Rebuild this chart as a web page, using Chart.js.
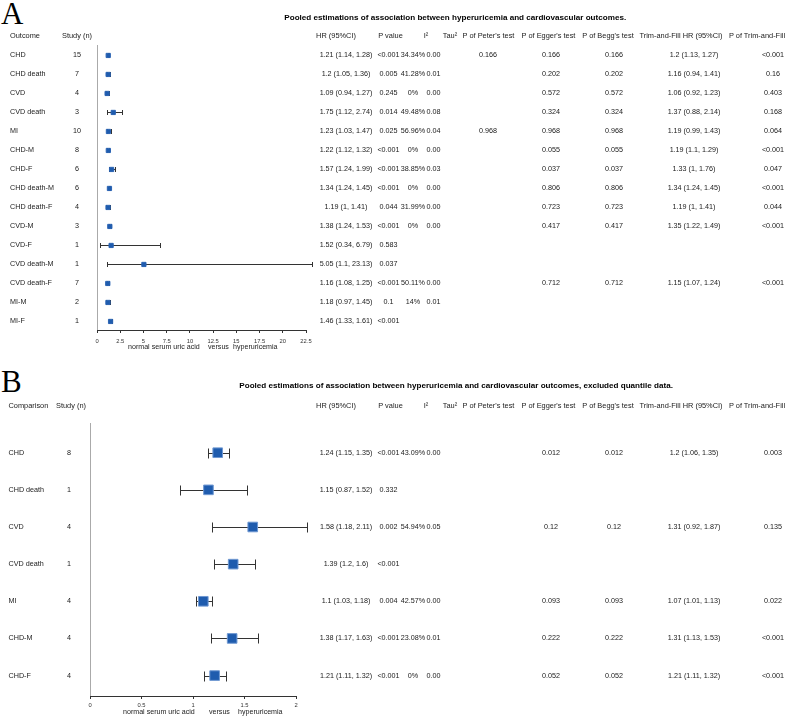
<!DOCTYPE html>
<html>
<head>
<meta charset="utf-8">
<script src="https://cdn.jsdelivr.net/npm/chart.js@4.4.0/dist/chart.umd.min.js"></script>
<style>
  body { margin: 0; background: #fff; width: 787px; height: 718px; overflow: hidden; position: relative;
         font-family: "Liberation Sans", Arial, sans-serif; }
  canvas { position: absolute; left: 0; }
  .t { position: absolute; white-space: pre; line-height: 1; font-size: 7.2px; color: #1a1a1a; z-index: 2; }
  .c { transform: translate(-50%, -50%); }
  .l { transform: translate(0, -50%); }
  .h { font-size: 7.4px; }
  .title { font-weight: bold; color: #000; font-size: 8.1px; }
  .ax { font-size: 7.1px; color: #222; }
  .panel { position: absolute; font-family: "Liberation Serif", "Times New Roman", serif; font-size: 31px;
           line-height: 1; color: #000; }
</style>
</head>
<body>
<div class="panel" style="left:1px;top:-2.5px">A</div>
<div class="panel" style="left:1px;top:365.5px">B</div>
<canvas id="chartA" width="340" height="360" style="top:0"></canvas>
<canvas id="chartB" width="340" height="358" style="top:360px"></canvas>
<script>
// Panel A - all outcomes
const outcomesA = ['CHD', 'CHD death', 'CVD', 'CVD death', 'MI', 'CHD-M', 'CHD-F', 'CHD death-M', 'CHD death-F',
  'CVD-M', 'CVD-F', 'CVD death-M', 'CVD death-F', 'MI-M', 'MI-F'];
const studiesA = [15, 7, 4, 3, 10, 8, 6, 6, 4, 3, 1, 1, 7, 2, 1];
const hrA = [1.21, 1.2, 1.09, 1.75, 1.23, 1.22, 1.57, 1.34, 1.19, 1.38, 1.52, 5.05, 1.16, 1.18, 1.46];
const lowerA = [1.14, 1.05, 0.94, 1.12, 1.03, 1.12, 1.24, 1.24, 1, 1.24, 0.34, 1.1, 1.08, 0.97, 1.33];
const upperA = [1.28, 1.36, 1.27, 2.74, 1.47, 1.32, 1.99, 1.45, 1.41, 1.53, 6.79, 23.13, 1.25, 1.45, 1.61];
const pValueA = ['<0.001', '0.005', '0.245', '0.014', '0.025', '<0.001', '<0.001', '<0.001', '0.044', '<0.001',
  '0.583', '0.037', '<0.001', '0.1', '<0.001'];
const i2A = ['34.34%', '41.28%', '0%', '49.48%', '56.96%', '0%', '38.85%', '0%', '31.99%', '0%', '', '', '50.11%', '14%', ''];
const tauA = ['0.00', '0.01', '0.00', '0.08', '0.04', '0.00', '0.03', '0.00', '0.00', '0.00', '', '', '0.00', '0.01', ''];
const peterA = ['0.166', '', '', '', '0.968', '', '', '', '', '', '', '', '', '', ''];
const eggerA = ['0.166', '0.202', '0.572', '0.324', '0.968', '0.055', '0.037', '0.806', '0.723', '0.417', '', '', '0.712', '', ''];
const beggA = ['0.166', '0.202', '0.572', '0.324', '0.968', '0.055', '0.037', '0.806', '0.723', '0.417', '', '', '0.712', '', ''];
const trimHrA = ['1.2 (1.13, 1.27)', '1.16 (0.94, 1.41)', '1.06 (0.92, 1.23)', '1.37 (0.88, 2.14)', '1.19 (0.99, 1.43)',
  '1.19 (1.1, 1.29)', '1.33 (1, 1.76)', '1.34 (1.24, 1.45)', '1.19 (1, 1.41)', '1.35 (1.22, 1.49)', '', '',
  '1.15 (1.07, 1.24)', '', ''];
const pTrimA = ['<0.001', '0.16', '0.403', '0.168', '0.064', '<0.001', '0.047', '<0.001', '0.044', '<0.001', '', '', '<0.001', '', ''];
const ticksA = { min: 0, max: 22.5, step: 2.5 };

// Panel B - excluded quantile data
const outcomesB = ['CHD', 'CHD death', 'CVD', 'CVD death', 'MI', 'CHD-M', 'CHD-F'];
const studiesB = [8, 1, 4, 1, 4, 4, 4];
const hrB = [1.24, 1.15, 1.58, 1.39, 1.1, 1.38, 1.21];
const lowerB = [1.15, 0.87, 1.18, 1.2, 1.03, 1.17, 1.11];
const upperB = [1.35, 1.52, 2.11, 1.6, 1.18, 1.63, 1.32];
const pValueB = ['<0.001', '0.332', '0.002', '<0.001', '0.004', '<0.001', '<0.001'];
const i2B = ['43.09%', '', '54.94%', '', '42.57%', '23.08%', '0%'];
const tauB = ['0.00', '', '0.05', '', '0.00', '0.01', '0.00'];
const peterB = ['', '', '', '', '', '', ''];
const eggerB = ['0.012', '', '0.12', '', '0.093', '0.222', '0.052'];
const beggB = ['0.012', '', '0.12', '', '0.093', '0.222', '0.052'];
const trimHrB = ['1.2 (1.06, 1.35)', '', '1.31 (0.92, 1.87)', '', '1.07 (1.01, 1.13)', '1.31 (1.13, 1.53)', '1.21 (1.11, 1.32)'];
const pTrimB = ['0.003', '', '0.135', '', '0.022', '<0.001', '<0.001'];
const ticksB = { min: 0, max: 2, step: 0.5 };

const headers = ['HR (95%CI)', 'P value', 'I²', 'Tau²', "P of Peter's test", "P of Egger's test",
  "P of Begg's test", 'Trim-and-Fill HR (95%CI)', 'P of Trim-and-Fill'];
const axisWords = ['normal serum uric acid', 'versus', 'hyperuricemia'];

// column layout (px)
const headerX = [336, 390.5, 426, 450, 488.5, 548.5, 608, 681, 757];
const colX = [346, 388.5, 413, 433.5, 488, 551, 614, 694, 773];
const FONT = "'Liberation Sans', Arial, sans-serif";

function addText(text, x, y, cls) {
  if (text === '' || text === null) return;
  const d = document.createElement('div');
  d.className = 't ' + (cls || 'c');
  d.textContent = text;
  d.style.left = x + 'px';
  d.style.top = y + 'px';
  document.body.appendChild(d);
}

// confidence interval lines with end caps, drawn under the squares
const forestBars = {
  id: 'forestBars',
  beforeDatasetsDraw(chart, args, opts) {
    const { ctx, scales: { x, y } } = chart;
    ctx.save();
    ctx.strokeStyle = '#333';
    ctx.lineWidth = 1;
    opts.lower.forEach((lo, i) => {
      const yy = Math.round(y.getPixelForValue(i)) + 0.5;
      const x1 = Math.round(x.getPixelForValue(lo)) + 0.5;
      const x2 = Math.round(x.getPixelForValue(opts.upper[i])) + 0.5;
      ctx.beginPath();
      ctx.moveTo(x1, yy); ctx.lineTo(x2, yy);
      ctx.moveTo(x1, yy - opts.cap); ctx.lineTo(x1, yy + opts.cap);
      ctx.moveTo(x2, yy - opts.cap); ctx.lineTo(x2, yy + opts.cap);
      ctx.stroke();
    });
    ctx.restore();
  }
};

function makeForest(id, cfg) {
  return new Chart(document.getElementById(id), {
    type: 'scatter',
    data: {
      datasets: [{
        data: cfg.hr.map((v, i) => ({ x: v, y: i })),
        pointStyle: 'rect',
        pointRadius: cfg.radius,
        backgroundColor: '#1f5cae',
        borderColor: cfg.border,
        borderWidth: 1
      }]
    },
    options: {
      responsive: false,
      animation: false,
      devicePixelRatio: 1,
      layout: { padding: cfg.padding },
      plugins: {
        legend: { display: false },
        tooltip: { enabled: false },
        forestBars: { lower: cfg.lower, upper: cfg.upper, cap: cfg.cap }
      },
      scales: {
        y: { type: 'linear', reverse: true, display: false, min: cfg.yMin, max: cfg.yMax },
        x: {
          type: 'linear',
          min: cfg.ticks.min,
          max: cfg.ticks.max,
          afterFit(scale) { scale.height = cfg.axisHeight; },
          border: { display: true, color: '#333', width: 1 },
          grid: {
            color: c => (c.tick && c.tick.value === 0 ? '#aaa' : 'rgba(0,0,0,0)'),
            tickColor: '#333',
            tickLength: 3
          },
          ticks: {
            stepSize: cfg.ticks.step,
            autoSkip: false,
            maxRotation: 0,
            padding: cfg.tickPad,
            color: '#333',
            font: { family: FONT, size: 5.8 },
            callback: v => String(v)
          }
        }
      }
    },
    plugins: [forestBars]
  });
}

function buildTable(chart, top, rows) {
  const y = chart.scales.y;
  rows.outcomes.forEach((name, i) => {
    const yy = top + y.getPixelForValue(i);
    addText(name, rows.labelX, yy, 'l');
    addText(String(rows.studies[i]), rows.studyX, yy);
    const hrText = `${rows.hr[i]} (${rows.lower[i]}, ${rows.upper[i]})`;
    const cols = [hrText, rows.p[i], rows.i2[i], rows.tau[i], rows.peter[i], rows.egger[i], rows.begg[i], rows.trim[i], rows.pTrim[i]];
    cols.forEach((txt, k) => addText(txt, colX[k], yy));
  });
}

const chartA = makeForest('chartA', {
  hr: hrA, lower: lowerA, upper: upperA, ticks: ticksA,
  radius: 3, border: '#2a63b3', cap: 2.5,
  yMin: -0.55, yMax: 14.45,
  padding: { left: 97, right: 34, top: 45, bottom: 0 },
  axisHeight: 30, tickPad: 4.5
});
const chartB = makeForest('chartB', {
  hr: hrB, lower: lowerB, upper: upperB, ticks: ticksB,
  radius: 6.8, border: '#6f98d2', cap: 5,
  yMin: -0.8, yMax: 6.55,
  padding: { left: 90, right: 44, top: 63, bottom: 0 },
  axisHeight: 22, tickPad: 3
});

// titles and headers
addText('Pooled estimations of association between hyperuricemia and cardiovascular outcomes.', 284.3, 17.7, 'l title');
addText('Pooled estimations of association between hyperuricemia and cardiovascular outcomes, excluded quantile data.', 239.3, 385.7, 'l title');

addText('Outcome', 10, 36, 'l h');
addText('Study (n)', 77, 36, 'c h');
headers.forEach((h, k) => addText(h, headerX[k], 36, 'c h'));
addText('Comparison', 8.5, 405.7, 'l h');
addText('Study (n)', 71, 405.7, 'c h');
headers.forEach((h, k) => addText(h, headerX[k], 405.7, 'c h'));

buildTable(chartA, 0, {
  outcomes: outcomesA, studies: studiesA, hr: hrA, lower: lowerA, upper: upperA, p: pValueA, i2: i2A,
  tau: tauA, peter: peterA, egger: eggerA, begg: beggA, trim: trimHrA, pTrim: pTrimA, labelX: 10, studyX: 77
});
buildTable(chartB, 360, {
  outcomes: outcomesB, studies: studiesB, hr: hrB, lower: lowerB, upper: upperB, p: pValueB, i2: i2B,
  tau: tauB, peter: peterB, egger: eggerB, begg: beggB, trim: trimHrB, pTrim: pTrimB, labelX: 8.5, studyX: 69
});

// axis captions under each forest plot
[[128, 208, 233], [123, 209, 238]].forEach((xs, p) => {
  const yy = p === 0 ? 347.5 : 713.3;
  axisWords.forEach((w, k) => addText(w, xs[k], yy, 'l ax'));
});
</script>
</body>
</html>
